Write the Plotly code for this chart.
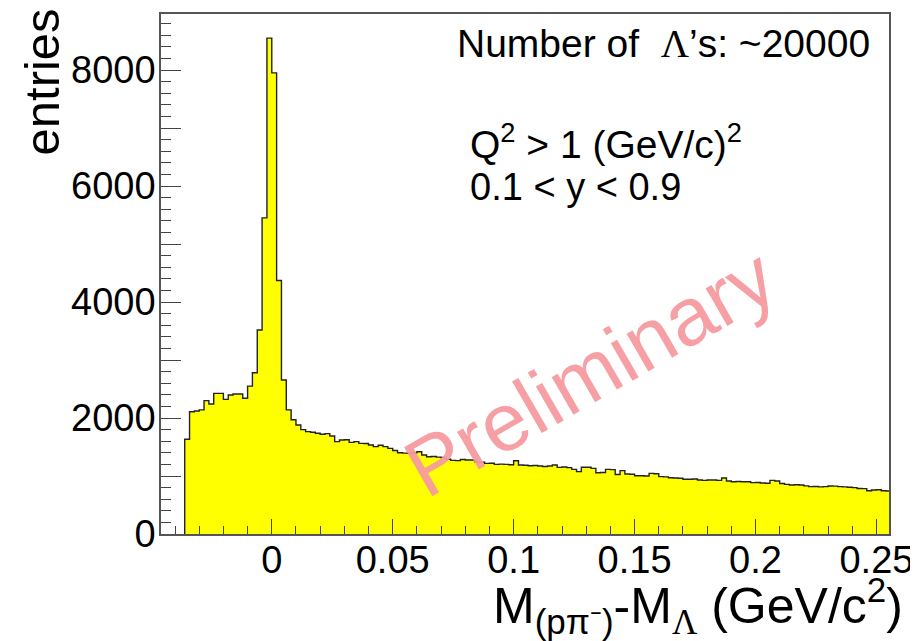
import numpy as np
import plotly.graph_objects as go

# ---- data ----
bin_low_edge = -0.036
bin_width = 0.002
counts = [
    # -0.036 .. 0
    1633, 2109, 2120, 2140, 2299, 2241, 2425, 2425, 2322, 2397, 2414, 2414,
    2340, 2550, 2780, 3517, 5450, 8550,
    # 0 .. 0.256
    7950, 4370, 2655, 2140, 1970, 1880, 1800, 1765, 1755, 1736,
    1720, 1730, 1690, 1592, 1621, 1625, 1580, 1592, 1563, 1560,
    1534, 1506, 1530, 1506, 1477, 1440, 1400, 1395, 1390, 1400,
    1419, 1362, 1333, 1335, 1325, 1320, 1290, 1270, 1265, 1285,
    1276, 1276, 1247, 1240, 1218, 1220, 1201, 1205, 1201, 1195,
    1264, 1190, 1185, 1178, 1180, 1172, 1165, 1172, 1190, 1149,
    1155, 1145, 1115, 1075, 1150, 1150, 1132, 1057, 1060, 1115,
    1110, 1025, 1092, 1034, 1030, 1005, 1005, 1000, 1046, 1040,
    989, 985, 970, 965, 960, 943, 945, 948, 931, 925,
    931, 931, 925, 965, 915, 902, 905, 902, 900, 885,
    888, 880, 874, 925, 915, 870, 856, 845, 848, 845,
    830, 816, 818, 812, 816, 828, 825, 816, 812, 805,
    800, 785, 782, 745, 759, 762, 745, 741,
]
x_tick_vals = [0, 0.05, 0.1, 0.15, 0.2, 0.25]
x_tick_text = ["0", "0.05", "0.1", "0.15", "0.2", "0.25"]
y_tick_vals = [0, 1000, 2000, 3000, 4000, 5000, 6000, 7000, 8000]
y_tick_text = ["0", "", "2000", "", "4000", "", "6000", "", "8000"]
x_range = [-0.0458, 0.2552]
y_range = [0, 8966]

# ---- step outline built from bin edges ----
n = len(counts)
edges = bin_low_edge + bin_width * np.arange(n + 1)
xs = np.concatenate([[edges[0]], edges])
ys = np.concatenate([[0], counts, [counts[-1]]])

FONT = "Liberation Sans, Arial, Helvetica, sans-serif"
SERIF = "Liberation Serif, Times New Roman, serif"

fig = go.Figure()
fig.add_trace(go.Scatter(
    x=xs, y=ys, mode="lines", line_shape="hv",
    line=dict(color="#222222", width=1.4),
    fill="tozeroy", fillcolor="#FFFF00",
    hoverinfo="skip", showlegend=False,
))

axis_common = dict(
    showline=True, mirror=True, linecolor="#555555", linewidth=1.5,
    showgrid=False, zeroline=False, ticks="inside", automargin=False,
    tickcolor="#444444", tickwidth=1.2,
    tickfont=dict(family=FONT, size=38, color="black"),
)

fig.update_xaxes(
    range=x_range, tickvals=x_tick_vals, ticktext=x_tick_text,
    ticklen=15, ticklabelstandoff=-8,
    minor=dict(ticks="inside", dtick=0.01, tick0=0, ticklen=8,
               tickcolor="#444444", tickwidth=1.2),
    **axis_common,
)
fig.update_yaxes(
    range=y_range, tickvals=y_tick_vals, ticktext=y_tick_text,
    ticklen=20, ticklabelstandoff=-4,
    minor=dict(ticks="inside", dtick=200, tick0=0, ticklen=10,
               tickcolor="#444444", tickwidth=1.2),
    **axis_common,
)

annotations = [
    dict(text="entries", x=-0.163, y=0.869, xref="paper", yref="paper",
         textangle=-90, showarrow=False, xanchor="center", yanchor="middle",
         font=dict(family=FONT, size=49, color="black")),
    dict(text=f"M<sub>(pπ⁻)</sub>-M<sub><span style='font-family:{SERIF}'>Λ</span></sub> (GeV/c<sup>2</sup>)",
         x=1.022, y=-0.138, xref="paper", yref="paper", showarrow=False,
         xanchor="right", yanchor="middle",
         font=dict(family=FONT, size=50, color="black")),
    dict(text=f"Number of  <span style='font-family:{SERIF}'>Λ</span>’s: ~20000",
         x=0.4038, y=0.944,
         xref="paper", yref="paper", showarrow=False,
         xanchor="left", yanchor="middle",
         font=dict(family=FONT, size=39, color="black")),
    dict(text="Q<sup>2</sup> > 1 (GeV/c)<sup>2</sup>", x=0.4217, y=0.755,
         xref="paper", yref="paper", showarrow=False,
         xanchor="left", yanchor="middle",
         font=dict(family=FONT, size=39, color="black")),
    dict(text="0.1 < y < 0.9", x=0.4217, y=0.667,
         xref="paper", yref="paper", showarrow=False,
         xanchor="left", yanchor="middle",
         font=dict(family=FONT, size=38, color="black")),
    dict(text="Preliminary", x=0.589, y=0.31, xref="paper", yref="paper",
         textangle=-30, showarrow=False, xanchor="center", yanchor="middle",
         font=dict(family=FONT, size=82, color="rgba(246,155,160,0.95)")),
]

# the page body adds an 8px offset, so the figure is 8px smaller and margins shifted
fig.update_layout(
    width=910, height=633,
    margin=dict(l=153, r=29, t=6, b=107),
    paper_bgcolor="white", plot_bgcolor="white",
    annotations=annotations,
    showlegend=False,
)

fig.write_html("out.html")
